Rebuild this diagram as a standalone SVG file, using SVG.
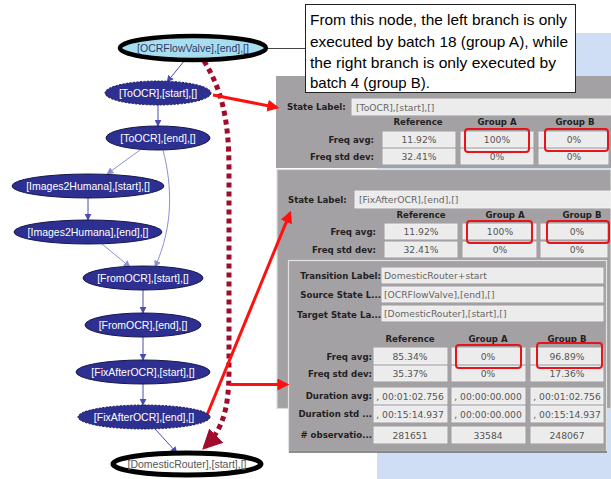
<svg xmlns="http://www.w3.org/2000/svg" width="611" height="479" viewBox="0 0 611 479">
<style>
.nd{fill:#2d3091;stroke:#14164a;stroke-width:1}
.dash{stroke-dasharray:2 1.5}
.nt{font-family:"Liberation Sans",Arial,sans-serif;font-size:10.5px;fill:#fff;text-anchor:middle}
.ed{fill:none;stroke:#4a4db0;stroke-width:1}
.ed2{fill:none;stroke:#8d8fd0;stroke-width:1}
.panel{fill:#a4a1a4}
.fld{fill:#ececec;stroke:#f6f6f6;stroke-width:0.8}
.lb{font-family:"DejaVu Sans",sans-serif;font-size:8.6px;font-weight:bold;fill:#222}
.hd{font-family:"DejaVu Sans",sans-serif;font-size:8.6px;font-weight:bold;fill:#222;text-anchor:middle}
.vl{font-family:"DejaVu Sans",sans-serif;font-size:9.2px;fill:#555;text-anchor:middle}
.ft{font-family:"DejaVu Sans",sans-serif;font-size:9.2px;fill:#666}
.hl{fill:none;stroke:#e8141c;stroke-width:2}
.ra{fill:none;stroke:#ff1010;stroke-width:3}
.co{font-family:"Liberation Sans",Arial,sans-serif;font-size:14.6px;fill:#000}
</style>
<defs>
<marker id="ab" viewBox="0 0 10 10" refX="9" refY="5" markerWidth="7" markerHeight="7" markerUnits="userSpaceOnUse" orient="auto"><path d="M0,0 L10,5 L0,10 z" fill="#4a4db0"/></marker>
<marker id="ab2" viewBox="0 0 10 10" refX="9" refY="5" markerWidth="7" markerHeight="7" markerUnits="userSpaceOnUse" orient="auto"><path d="M0,0 L10,5 L0,10 z" fill="#8d8fd0"/></marker>
<marker id="ar" viewBox="0 0 10 10" refX="8" refY="5" markerWidth="12" markerHeight="12" markerUnits="userSpaceOnUse" orient="auto"><path d="M0,0 L10,5 L0,10 z" fill="#ff1010"/></marker>
<marker id="am" viewBox="0 0 10 10" refX="8" refY="5" markerWidth="20" markerHeight="22" markerUnits="userSpaceOnUse" orient="auto"><path d="M0,0 L10,5 L0,10 z" fill="#a00c2c"/></marker>
</defs>
<rect x="0" y="0" width="611" height="479" fill="#fff"/>
<rect x="377" y="33" width="234" height="446" fill="#cfdef4"/>

<!-- panel 1 -->
<g id="panel1">
<rect class="panel" x="276" y="76" width="335" height="92"/>
<text class="lb" x="287" y="110">State Label:</text>
<rect class="fld" x="352" y="99" width="259" height="16"/>
<text class="ft" x="356" y="110.5">[ToOCR],[start],[]</text>
<text class="hd" x="418" y="125">Reference</text>
<text class="hd" x="497" y="125">Group A</text>
<text class="hd" x="575" y="125">Group B</text>
<text class="lb" x="374" y="143" text-anchor="end">Freq avg:</text>
<rect class="fld" x="383" y="132" width="72" height="15"/>
<rect class="fld" x="461" y="132" width="72" height="15"/>
<rect class="fld" x="539" y="132" width="69" height="15"/>
<text class="vl" x="419" y="143">11.92%</text>
<text class="vl" x="497" y="143">100%</text>
<text class="vl" x="574" y="143">0%</text>
<text class="lb" x="374" y="160" text-anchor="end">Freq std dev:</text>
<rect class="fld" x="383" y="149" width="72" height="15"/>
<rect class="fld" x="461" y="149" width="72" height="15"/>
<rect class="fld" x="539" y="149" width="69" height="15"/>
<text class="vl" x="419" y="160">32.41%</text>
<text class="vl" x="497" y="160">0%</text>
<text class="vl" x="574" y="160">0%</text>
<rect class="hl" x="465" y="129" width="64" height="23" rx="3"/>
<rect class="hl" x="545" y="129" width="63" height="22" rx="3"/>
</g>

<!-- panel 2 -->
<g id="panel2">
<rect class="panel" x="277" y="169.5" width="334" height="239" stroke="#dcdcdc" stroke-width="1.2"/>
<text class="lb" x="288" y="203">State Label:</text>
<rect class="fld" x="355" y="191" width="256" height="17"/>
<text class="ft" x="359" y="203">[FixAfterOCR],[end],[]</text>
<text class="hd" x="421" y="218">Reference</text>
<text class="hd" x="505" y="218">Group A</text>
<text class="hd" x="582" y="218">Group B</text>
<text class="lb" x="376" y="235" text-anchor="end">Freq avg:</text>
<rect class="fld" x="385" y="224" width="72" height="15"/>
<rect class="fld" x="463" y="224" width="73" height="15"/>
<rect class="fld" x="541" y="224" width="66" height="15"/>
<text class="vl" x="421" y="235">11.92%</text>
<text class="vl" x="500" y="235">100%</text>
<text class="vl" x="577" y="235">0%</text>
<text class="lb" x="376" y="253" text-anchor="end">Freq std dev:</text>
<rect class="fld" x="385" y="242" width="72" height="15"/>
<rect class="fld" x="463" y="242" width="73" height="15"/>
<rect class="fld" x="541" y="242" width="66" height="15"/>
<text class="vl" x="421" y="253">32.41%</text>
<text class="vl" x="500" y="253">0%</text>
<text class="vl" x="577" y="253">0%</text>
<rect class="hl" x="467" y="221" width="65" height="22" rx="3"/>
<rect class="hl" x="547" y="221" width="62" height="22" rx="3"/>
</g>

<!-- panel 3 -->
<g id="panel3">
<rect class="panel" x="288.5" y="260.5" width="318" height="191" stroke="#e2e2e2" stroke-width="1.2"/>
<line x1="289" y1="452" x2="607" y2="452" stroke="#6e6c6e" stroke-width="1.5"/>
<text class="lb" x="381" y="279" text-anchor="end">Transition Label:</text>
<rect class="fld" x="382" y="268" width="221" height="15"/>
<text class="ft" x="384" y="279">DomesticRouter+start</text>
<text class="lb" x="381" y="298" text-anchor="end">Source State L...</text>
<rect class="fld" x="382" y="287" width="221" height="15"/>
<text class="ft" x="384" y="298">[OCRFlowValve],[end],[]</text>
<text class="lb" x="381" y="318" text-anchor="end">Target State La...</text>
<rect class="fld" x="382" y="306" width="221" height="15"/>
<text class="ft" x="384" y="317">[DomesticRouter],[start],[]</text>
<text class="hd" x="410" y="342">Reference</text>
<text class="hd" x="488" y="342">Group A</text>
<text class="hd" x="567" y="342">Group B</text>
<text class="lb" x="372" y="360" text-anchor="end">Freq avg:</text>
<rect class="fld" x="374" y="348" width="73" height="16"/>
<rect class="fld" x="452" y="348" width="73" height="16"/>
<rect class="fld" x="531" y="348" width="72" height="16"/>
<text class="vl" x="410" y="360">85.34%</text>
<text class="vl" x="488" y="360">0%</text>
<text class="vl" x="567" y="360">96.89%</text>
<text class="lb" x="372" y="377" text-anchor="end">Freq std dev:</text>
<rect class="fld" x="374" y="366" width="73" height="15"/>
<rect class="fld" x="452" y="366" width="73" height="15"/>
<rect class="fld" x="531" y="366" width="72" height="15"/>
<text class="vl" x="410" y="377">35.37%</text>
<text class="vl" x="488" y="377">0%</text>
<text class="vl" x="567" y="377">17.36%</text>
<text class="lb" x="372" y="399" text-anchor="end">Duration avg:</text>
<rect class="fld" x="374" y="388" width="73" height="16"/>
<rect class="fld" x="452" y="388" width="73" height="16"/>
<rect class="fld" x="531" y="388" width="72" height="16"/>
<text class="vl" x="410" y="399.5">, 00:01:02.756</text>
<text class="vl" x="488" y="399.5">, 00:00:00.000</text>
<text class="vl" x="567" y="399.5">, 00:01:02.756</text>
<text class="lb" x="372" y="417" text-anchor="end">Duration std ...</text>
<rect class="fld" x="374" y="406" width="73" height="16"/>
<rect class="fld" x="452" y="406" width="73" height="16"/>
<rect class="fld" x="531" y="406" width="72" height="16"/>
<text class="vl" x="410" y="417.5">, 00:15:14.937</text>
<text class="vl" x="488" y="417.5">, 00:00:00.000</text>
<text class="vl" x="567" y="417.5">, 00:15:14.937</text>
<text class="lb" x="372" y="438" text-anchor="end"># observatio...</text>
<rect class="fld" x="374" y="427" width="73" height="16"/>
<rect class="fld" x="452" y="427" width="73" height="16"/>
<rect class="fld" x="531" y="427" width="72" height="16"/>
<text class="vl" x="410" y="438.5">281651</text>
<text class="vl" x="488" y="438.5">33584</text>
<text class="vl" x="567" y="438.5">248067</text>
<rect class="hl" x="456" y="345" width="65" height="23" rx="3"/>
<rect class="hl" x="537" y="343" width="65" height="25" rx="3"/>
</g>

<!-- callout -->
<g id="callout">
<rect x="305.5" y="4.5" width="270" height="88" fill="#fff" stroke="#222" stroke-width="1"/>
<text class="co" x="310" y="25" textLength="257" lengthAdjust="spacingAndGlyphs">From this node, the left branch is only</text>
<text class="co" x="310" y="46.5" textLength="258" lengthAdjust="spacingAndGlyphs">executed by batch 18 (group A), while</text>
<text class="co" x="310" y="67.5" textLength="246" lengthAdjust="spacingAndGlyphs">the right branch is only executed by</text>
<text class="co" x="310" y="88" textLength="120" lengthAdjust="spacingAndGlyphs">batch 4 (group B).</text>
</g>

<!-- connectors -->
<g id="connectors">
<line x1="267" y1="48.5" x2="305" y2="48.5" stroke="#444" stroke-width="1"/>
<line class="ed" x1="185" y1="60" x2="167" y2="82" marker-end="url(#ab)"/>
<line class="ed" x1="158" y1="105" x2="158" y2="126" marker-end="url(#ab)"/>
<line class="ed2" x1="140" y1="150" x2="107" y2="174" marker-end="url(#ab2)"/>
<path class="ed2" d="M163,150 C172,185 174,225 155,267" marker-end="url(#ab2)"/>
<line class="ed" x1="88" y1="198" x2="88" y2="220" marker-end="url(#ab)"/>
<line class="ed2" x1="102" y1="244" x2="130" y2="267" marker-end="url(#ab2)"/>
<line class="ed" x1="143" y1="290" x2="143" y2="313" marker-end="url(#ab)"/>
<line class="ed" x1="143" y1="337" x2="143" y2="360" marker-end="url(#ab)"/>
<line class="ed" x1="143" y1="384" x2="143" y2="405" marker-end="url(#ab)"/>
<line class="ed" x1="155" y1="429" x2="177" y2="453" marker-end="url(#ab)"/>
<path d="M204,61 C222,90 229,120 229,170 L229,370 C229,410 222,430 205,447" fill="none" stroke="#a00c2c" stroke-width="5" stroke-dasharray="5 4" marker-end="url(#am)"/>
<line class="ra" x1="213" y1="95" x2="277" y2="107.5" marker-end="url(#ar)"/>
<line class="ra" x1="207" y1="415" x2="290" y2="213" marker-end="url(#ar)"/>
<line class="ra" x1="230" y1="384.5" x2="287" y2="384.5" marker-end="url(#ar)"/>
</g>

<!-- nodes -->
<g id="n_ocrflowvalve">
<path d="M188,35 L198,35 L193,41 z" fill="#a8ddf0"/>
<ellipse cx="193" cy="48" rx="73" ry="12" fill="#a8ddf0" stroke="#000" stroke-width="4.5"/>
<text class="nt" x="193" y="52" style="fill:#2a3a6a">[OCRFlowValve],[end],[]</text>
</g>
<g id="n_toocr_start">
<ellipse class="nd dash" cx="158" cy="93" rx="53" ry="12"/>
<text class="nt" x="158" y="97">[ToOCR],[start],[]</text>
</g>
<g id="n_toocr_end">
<ellipse class="nd" cx="158" cy="138" rx="52" ry="12"/>
<text class="nt" x="158" y="142">[ToOCR],[end],[]</text>
</g>
<g id="n_img_start">
<ellipse class="nd" cx="88" cy="186" rx="76" ry="12"/>
<text class="nt" x="88" y="190">[Images2Humana],[start],[]</text>
</g>
<g id="n_img_end">
<ellipse class="nd" cx="88" cy="232" rx="74" ry="12"/>
<text class="nt" x="88" y="236">[Images2Humana],[end],[]</text>
</g>
<g id="n_fromocr_start">
<ellipse class="nd" cx="143" cy="278" rx="60" ry="12"/>
<text class="nt" x="143" y="282">[FromOCR],[start],[]</text>
</g>
<g id="n_fromocr_end">
<ellipse class="nd" cx="143" cy="325" rx="58" ry="12"/>
<text class="nt" x="143" y="329">[FromOCR],[end],[]</text>
</g>
<g id="n_fix_start">
<ellipse class="nd" cx="143" cy="372" rx="67" ry="12"/>
<text class="nt" x="143" y="376">[FixAfterOCR],[start],[]</text>
</g>
<g id="n_fix_end">
<ellipse class="nd dash" cx="144" cy="417" rx="66" ry="12"/>
<text class="nt" x="144" y="421">[FixAfterOCR],[end],[]</text>
</g>
<g id="n_domestic">
<ellipse cx="187" cy="464" rx="74" ry="11" fill="#fff" stroke="#000" stroke-width="5"/>
<text class="nt" x="187" y="468" style="fill:#555">[DomesticRouter],[start],[]</text>
</g>
</svg>
